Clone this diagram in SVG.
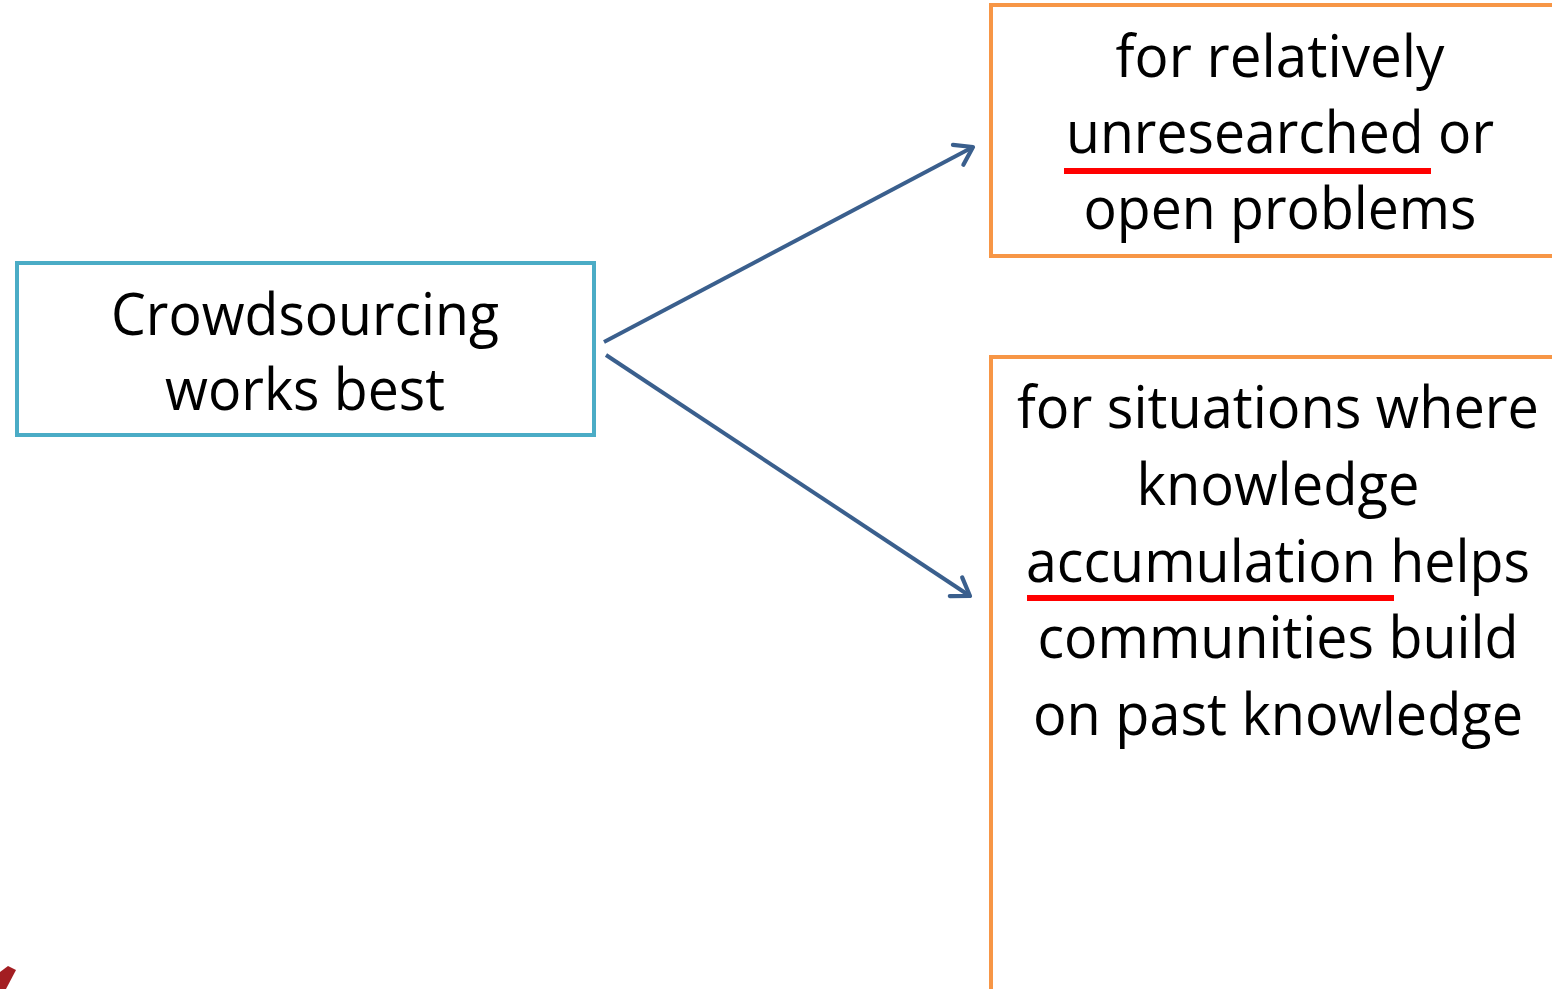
<svg xmlns="http://www.w3.org/2000/svg" width="1552" height="989" viewBox="0 0 1552 989">
  <style>
    .txt { font-family: "Open Sans", "Liberation Sans", sans-serif; font-size: 59px; fill: #000; text-anchor: middle; }
    .blue { fill: #fff; stroke: #4BACC6; stroke-width: 4; }
    .orange { fill: #fff; stroke: #F79646; stroke-width: 4; }
    .conn { stroke: #3A5F8D; stroke-width: 4; fill: none; }
    .ul { fill: #FF0000; }
  </style>
  <defs>
    <marker id="arr" viewBox="0 0 20 20" refX="16" refY="10" markerWidth="7" markerHeight="7" markerUnits="strokeWidth" orient="auto">
      <path d="M4,2 L16,10 L4,18" fill="none" stroke="#3A5F8D" stroke-width="3" stroke-linecap="round" stroke-linejoin="round"/>
    </marker>
  </defs>
  <rect width="1552" height="989" fill="#fff"/>
  <g id="node-crowdsourcing">
    <rect class="blue" x="17" y="263" width="577" height="172"/>
    <text class="txt" x="305" y="335" textLength="388" lengthAdjust="spacingAndGlyphs">Crowdsourcing</text>
    <text class="txt" x="305" y="410" textLength="280" lengthAdjust="spacingAndGlyphs">works best</text>
  </g>
  <g id="node-unresearched">
    <rect class="orange" x="991" y="5" width="580" height="251"/>
    <text class="txt" x="1280" y="77" textLength="329" lengthAdjust="spacingAndGlyphs">for relatively</text>
    <text class="txt" x="1280" y="153" textLength="428" lengthAdjust="spacingAndGlyphs">unresearched or</text>
    <text class="txt" x="1280" y="229" textLength="393" lengthAdjust="spacingAndGlyphs">open problems</text>
    <rect class="ul" x="1064" y="168" width="367" height="6"/>
  </g>
  <g id="node-accumulation">
    <rect class="orange" x="991" y="357" width="580" height="650"/>
    <text class="txt" x="1278" y="428" textLength="522" lengthAdjust="spacingAndGlyphs">for situations where</text>
    <text class="txt" x="1278" y="505" textLength="283" lengthAdjust="spacingAndGlyphs">knowledge</text>
    <text class="txt" x="1278" y="582" textLength="504" lengthAdjust="spacingAndGlyphs">accumulation helps</text>
    <text class="txt" x="1278" y="658" textLength="481" lengthAdjust="spacingAndGlyphs">communities build</text>
    <text class="txt" x="1278" y="735" textLength="490" lengthAdjust="spacingAndGlyphs">on past knowledge</text>
    <rect class="ul" x="1027" y="595" width="367" height="6"/>
  </g>
  <g id="connectors">
    <line class="conn" x1="604" y1="342" x2="973" y2="147" marker-end="url(#arr)"/>
    <line class="conn" x1="606" y1="355" x2="970" y2="596" marker-end="url(#arr)"/>
  </g>
  <g id="logo-fragment">
    <polygon points="0,972 8,966 16,970 6,989 0,989" fill="#A31E22"/>
  </g>
</svg>
